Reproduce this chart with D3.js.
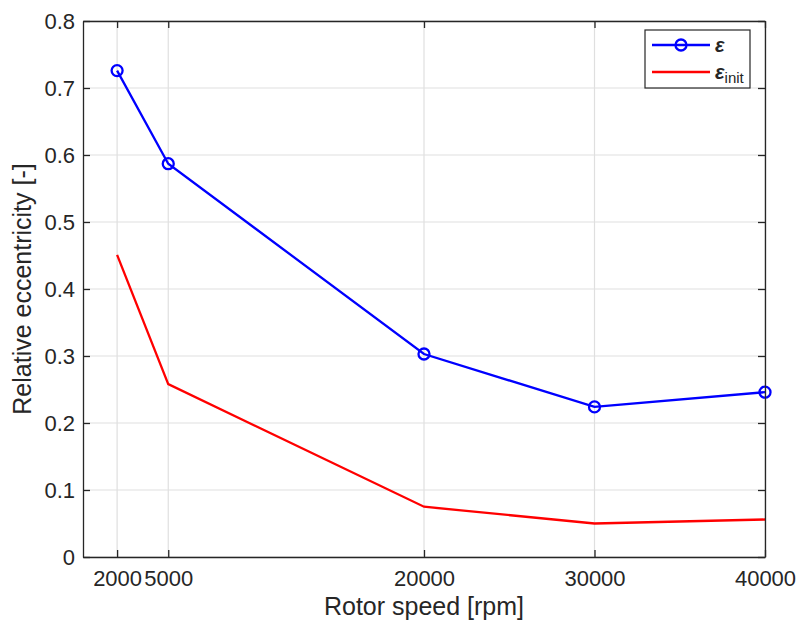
<!DOCTYPE html>
<html>
<head>
<meta charset="utf-8">
<script src="https://cdn.jsdelivr.net/npm/d3@7"></script>
<style>
  html, body { margin: 0; padding: 0; background: #fff; }
  svg { display: block; font-family: "Liberation Sans", Arial, sans-serif; }
</style>
</head>
<body>
<svg id="chart" width="800" height="624"></svg>
<script>
// Rotor speed [rpm]
const speeds = [2000, 5000, 20000, 30000, 40000];
// Relative eccentricity, steady state
const epsilon = [0.726, 0.587, 0.303, 0.224, 0.246];
// Relative eccentricity, initial
const epsilonInit = [0.451, 0.258, 0.075, 0.050, 0.056];
const xTicks = [2000, 5000, 20000, 30000, 40000];
const yTicks = [0, 0.1, 0.2, 0.3, 0.4, 0.5, 0.6, 0.7, 0.8];

const margin = { left: 83, right: 35, top: 21, bottom: 67 };
const W = 800, H = 624;
const svg = d3.select("#chart");
const axisColor = "#262626";

const x = d3.scaleLinear().domain([0, 40000]).range([margin.left, W - margin.right]);
const y = d3.scaleLinear().domain([0, 0.8]).range([H - margin.bottom, margin.top]);

const x0 = x.range()[0], x1 = x.range()[1], y0 = y.range()[0], y1 = y.range()[1];

// grid
const grid = svg.append("g").attr("stroke", "#dfdfdf").attr("stroke-width", 1.2);
grid.selectAll(".gx").data(xTicks).join("line")
  .attr("x1", d => x(d)).attr("x2", d => x(d)).attr("y1", y0).attr("y2", y1);
grid.selectAll(".gy").data(yTicks).join("line")
  .attr("y1", d => y(d)).attr("y2", d => y(d)).attr("x1", x0).attr("x2", x1);

// series
const line = d3.line().x(d => x(d[0])).y(d => y(d[1]));
const blueData = speeds.map((s, i) => [s, epsilon[i]]);
const redData = speeds.map((s, i) => [s, epsilonInit[i]]);

svg.append("path").datum(redData).attr("d", line)
  .attr("fill", "none").attr("stroke", "#ff0000").attr("stroke-width", 2.3);
svg.append("path").datum(blueData).attr("d", line)
  .attr("fill", "none").attr("stroke", "#0000ff").attr("stroke-width", 2.3);
svg.selectAll(".mk").data(blueData).join("circle")
  .attr("cx", d => x(d[0])).attr("cy", d => y(d[1])).attr("r", 5.5)
  .attr("fill", "none").attr("stroke", "#0000ff").attr("stroke-width", 2.3);

// axes (box with inward ticks on all four sides)
const tickLen = 7;
const xAxis = d3.axisBottom(x).tickValues(xTicks).tickSizeInner(-tickLen).tickSizeOuter(0)
  .tickPadding(13).tickFormat(d3.format("d"));
const yAxis = d3.axisLeft(y).tickValues(yTicks).tickSizeInner(-tickLen).tickSizeOuter(0)
  .tickPadding(8).tickFormat(d => d === 0 ? "0" : d3.format(".1f")(d));
const xTop = d3.axisTop(x).tickValues(xTicks).tickSizeInner(-tickLen).tickSizeOuter(0).tickFormat("");
const yRight = d3.axisRight(y).tickValues(yTicks).tickSizeInner(-tickLen).tickSizeOuter(0).tickFormat("");

function style(g) {
  g.select(".domain").attr("stroke", axisColor).attr("stroke-width", 1.3);
  g.selectAll(".tick line").attr("stroke", axisColor).attr("stroke-width", 1.3);
  g.selectAll(".tick text").attr("fill", axisColor).style("font-size", "22px");
}
svg.append("g").attr("transform", `translate(0,${y0})`).call(xAxis).call(style);
svg.append("g").attr("transform", `translate(${x0},0)`).call(yAxis).call(style);
svg.append("g").attr("transform", `translate(0,${y1})`).call(xTop).call(style);
svg.append("g").attr("transform", `translate(${x1},0)`).call(yRight).call(style);

// axis labels
svg.append("text").attr("x", (x0 + x1) / 2).attr("y", 615)
  .attr("text-anchor", "middle").attr("fill", axisColor).style("font-size", "25px")
  .text("Rotor speed [rpm]");
svg.append("text").attr("transform", `translate(31,${(y0 + y1) / 2}) rotate(-90)`)
  .attr("text-anchor", "middle").attr("fill", axisColor).style("font-size", "25px")
  .text("Relative eccentricity [-]");

// legend
const lg = svg.append("g");
lg.append("rect").attr("x", 645).attr("y", 30).attr("width", 105).attr("height", 58)
  .attr("fill", "#fff").attr("stroke", axisColor).attr("stroke-width", 1.2);
lg.append("line").attr("x1", 652).attr("x2", 710).attr("y1", 45).attr("y2", 45)
  .attr("stroke", "#0000ff").attr("stroke-width", 2.3);
lg.append("circle").attr("cx", 681).attr("cy", 45).attr("r", 5.5)
  .attr("fill", "none").attr("stroke", "#0000ff").attr("stroke-width", 2.3);
lg.append("line").attr("x1", 652).attr("x2", 710).attr("y1", 72).attr("y2", 72)
  .attr("stroke", "#ff0000").attr("stroke-width", 2.3);
lg.append("text").attr("x", 715).attr("y", 52).attr("fill", axisColor)
  .style("font-size", "20px").style("font-style", "italic").style("font-weight", "bold").text("ε");
const t2 = lg.append("text").attr("x", 715).attr("y", 79).attr("fill", axisColor)
  .style("font-size", "20px").style("font-style", "italic");
t2.append("tspan").style("font-weight", "bold").text("ε");
t2.append("tspan").attr("dy", 4).style("font-size", "15px").style("font-style", "normal").text("init");
</script>
</body>
</html>
